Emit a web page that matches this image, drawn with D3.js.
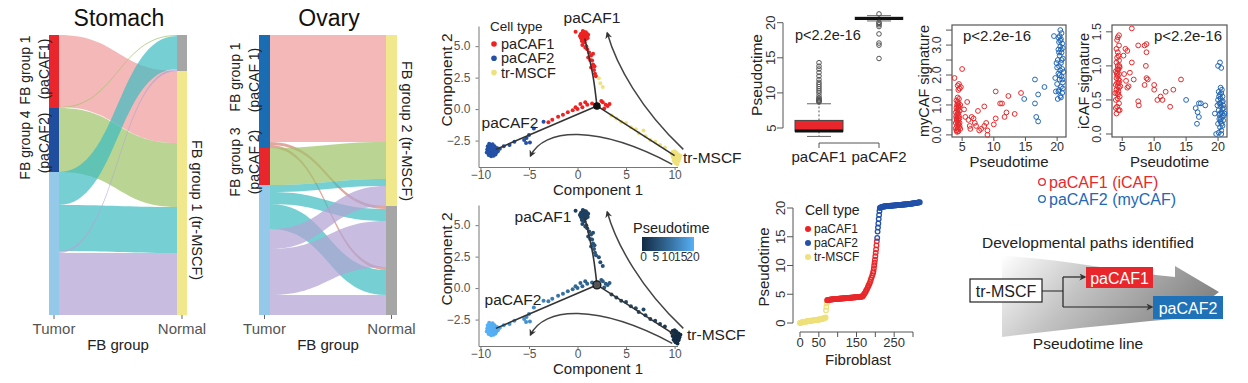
<!DOCTYPE html>
<html><head><meta charset="utf-8">
<script src="https://cdn.jsdelivr.net/npm/d3@7"></script>
<style>
body{margin:0;background:#fff;}
svg{display:block;font-family:"Liberation Sans",Arial,Helvetica,sans-serif;}
</style></head><body>
<svg id="fig" width="1248" height="383"></svg>
<script>
// ================= DATA =================
// Alluvial: stomach
const stomachTumorStrata = ["paCAF1","paCAF2","tr-MSCF"];
const stomachNormalStrata = ["other","tr-MSCF"];
const stomachFlows = [
  {from:"paCAF1", to:"tr-MSCF", n:72, grp:"A"},
  {from:"paCAF1", to:"other",   n:1,  grp:"B"},
  {from:"paCAF2", to:"tr-MSCF", n:64, grp:"B"},
  {from:"tr-MSCF", to:"other",  n:33, grp:"C"},
  {from:"tr-MSCF", to:"tr-MSCF",n:46, grp:"C"},
  {from:"tr-MSCF", to:"other",  n:2,  grp:"D"},
  {from:"tr-MSCF", to:"tr-MSCF",n:62, grp:"D"}
];
const stomachNormalOrder = [1,3,5,0,2,4,6];
// Alluvial: ovary
const ovaryTumorStrata = ["paCAF1","paCAF2","tr-MSCF"];
const ovaryNormalStrata = ["tr-MSCF","other"];
const ovaryFlows = [
  {from:"paCAF1", to:"tr-MSCF", n:107, grp:"A"},
  {from:"paCAF1", to:"other",   n:3,   grp:"A2"},
  {from:"paCAF1", to:"other",   n:3,   grp:"A2"},
  {from:"paCAF2", to:"tr-MSCF", n:37,  grp:"B"},
  {from:"tr-MSCF", to:"tr-MSCF",n:7,   grp:"C"},
  {from:"tr-MSCF", to:"other",  n:12,  grp:"C"},
  {from:"tr-MSCF", to:"other",  n:25,  grp:"C"},
  {from:"tr-MSCF", to:"tr-MSCF",n:20,  grp:"D"},
  {from:"tr-MSCF", to:"other",  n:46,  grp:"D"},
  {from:"tr-MSCF", to:"other",  n:20,  grp:"D"}
];
const ovaryNormalOrder = [0,3,4,7,1,5,8,2,6,9];

// Trajectory cells: [component1, component2, pseudotime]
const trajPaCAF1 = [
[0.35,5.95,3.6],[0.45,5.75,3.8],[0.55,6.05,3.7],[0.6,5.85,3.9],[0.7,5.65,4.0],[0.8,5.95,3.8],[0.9,5.75,4.1],[1.0,5.85,3.9],[0.5,5.55,4.2],[0.7,6.1,3.7],[0.6,5.45,4.3],[0.4,6.0,3.6],[0.85,5.55,4.2],[1.05,5.65,4.0],[0.55,5.7,3.9],[0.75,5.8,3.8],[0.65,6.0,3.7],[0.95,6.0,3.9],[0.35,5.65,4.0],[0.25,5.8,3.8],[0.45,5.4,4.4],[0.85,6.1,3.7],[0.55,6.2,3.6],[1.1,5.9,4.0],[0.7,5.3,4.5],[-0.2,6.15,3.7],
[0.5,5.1,5.0],[0.9,5.0,5.2],[0.8,4.9,5.3],[1.0,4.75,5.5],[1.2,4.5,5.8],[1.6,4.4,6.0],[1.4,4.25,6.1],[1.1,4.1,6.2],[1.3,3.9,6.4],[1.5,3.85,6.5],[1.6,3.55,6.7],[1.75,3.4,6.9],[1.4,3.3,7.0],[1.7,3.1,7.2],[1.8,2.8,7.5],[1.9,2.6,7.7],
[2.6,0.55,8.2],[2.9,0.35,8.4],[3.1,0.25,8.5],[2.75,0.05,8.3],[2.45,0.65,8.1],[3.3,0.4,8.6],
[1.5,0.45,9.0],[1.0,0.35,9.3],[0.8,0.55,9.2],[0.5,0.15,9.6],[0.3,0.4,9.5],[0.0,0.0,10.0],[-0.2,0.15,10.1],[-0.5,-0.1,10.5],[-1.0,-0.25,11.0],[-1.5,-0.45,11.6],[-2.0,-0.6,12.1],[-2.6,-0.85,12.8],[-3.0,-1.05,13.3]
];
const trajPaCAF2 = [
[-3.5,-1.0,14.0],[-4.5,-1.55,15.0],[-5.0,-2.05,15.6],[-5.25,-2.3,16.0],[-5.5,-2.45,16.3],[-4.9,-2.65,16.1],[-5.3,-2.7,16.4],[-6.5,-2.6,17.2],[-7.0,-2.85,17.8],[-7.6,-2.95,18.5],[-8.0,-3.15,19.2],
[-9.2,-3.0,20.5],[-9.0,-3.1,20.6],[-8.8,-3.0,20.4],[-8.6,-3.15,20.3],[-8.4,-3.25,20.2],[-9.1,-3.3,20.7],[-8.9,-3.4,20.6],[-8.7,-3.35,20.5],[-8.5,-3.45,20.4],[-9.0,-3.55,20.8],[-8.8,-3.6,20.7],[-8.6,-3.55,20.5],[-9.3,-3.2,20.9],[-9.2,-3.45,20.8],[-8.3,-3.1,20.2],[-8.95,-2.85,20.5],[-8.75,-2.8,20.4],[-9.1,-2.75,20.6],[-8.55,-2.95,20.3],[-8.2,-3.35,20.2],[-8.9,-3.75,20.8],[-9.15,-3.65,20.9],[-8.65,-3.7,20.6],[-8.45,-3.6,20.4],[-9.35,-3.45,20.9],[-8.8,-3.25,20.6],[-9.05,-3.2,20.7],[-8.35,-3.45,20.3],[-9.25,-2.95,20.8],[-8.65,-3.05,20.4]
];
const trajTrMSCF = [
[2.2,2.45,6.0],[2.35,2.05,6.2],[2.6,1.75,6.4],
[3.5,-0.5,6.0],[4.0,-0.75,5.8],[4.5,-1.0,5.6],[5.0,-1.1,5.4],[5.5,-1.45,5.2],[6.0,-1.6,5.0],[6.3,-1.9,4.8],[6.8,-1.7,4.8],[7.0,-2.15,4.5],[7.5,-2.45,4.2],[8.0,-2.6,4.0],[8.5,-2.85,3.6],[9.0,-3.05,3.0],
[9.8,-3.4,0.6],[10.0,-3.35,0.5],[10.2,-3.5,0.5],[10.4,-3.6,0.4],[9.9,-3.6,0.5],[10.1,-3.7,0.4],[10.3,-3.8,0.3],[10.5,-3.9,0.3],[9.8,-3.8,0.4],[10.0,-3.95,0.3],[10.2,-4.05,0.2],[10.4,-4.15,0.2],[10.1,-4.3,0.1],[10.3,-4.4,0.1],[9.9,-4.1,0.2],[10.6,-3.7,0.3],[9.7,-3.55,0.5],[10.15,-3.45,0.5],[10.45,-4.0,0.2],[10.05,-4.2,0.2],[10.25,-3.6,0.4],[9.95,-3.75,0.4]
];
const trajBackbone = [
  [[2.0,0.25],[1.6,2.6],[0.75,5.6]],
  [[2.0,0.25],[-8.4,-3.2]],
  [[2.0,0.25],[10.0,-3.7]]
];
const trajBranchPoint = [2.0,0.25];
const trajArrows = [
  [[10.9,-3.2],[6.5,0.0],[4.0,3.5],[3.06,6.05]],
  [[9.76,-4.39],[2.0,-1.2],[-3.5,-1.5],[-4.85,-3.73]]
];
const trajXTicks = [-10,-5,0,5,10];
const trajYTicks = [-2.5,0,2.5,5.0];
const cellTypes = ["paCAF1","paCAF2","tr-MSCF"];
const pseudoLegendTicks = [0,5,10,15,20];

// Box plot: pseudotime by group
const boxGroups = ["paCAF1","paCAF2"];
const boxQ1 = [4.52, 20.45];
const boxMedian = [4.58, 20.6];
const boxQ3 = [6.08, 20.8];
const boxLow = [3.8, 20.25];
const boxHigh = [8.45, 21.0];
const boxOutliers = [
  [8.7,8.8,8.9,9.0,9.15,9.3,9.6,10.0,10.3,10.6,10.9,11.2,11.5,11.9,12.4,12.9,13.4,13.8,14.3],
  [21.25,20.05,19.9,19.7,19.45,18.4,17.1,16.8,14.9]
];
const boxYTicks = [5,10,15,20];

// Scatter: myCAF signature vs pseudotime
const myCafRed = [
[4.1,0.15],[4.3,0.2],[4.5,0.25],[4.2,0.3],[4.4,0.35],[4.0,0.4],[4.6,0.4],[4.2,0.45],[4.4,0.5],[4.1,0.55],[4.3,0.6],[4.5,0.62],[4.2,0.68],[4.4,0.72],[4.0,0.75],[4.6,0.8],[4.3,0.85],[4.1,0.9],[4.5,0.95],[4.2,1.0],[4.4,1.05],[4.3,1.1],[4.1,1.15],[4.5,1.2],[4.3,1.25],[4.2,0.1],[4.4,0.12],[4.0,0.22],[4.6,0.3],[4.15,0.5],[4.55,0.55],[4.35,0.4],[4.25,0.78],[4.45,0.9],[4.05,0.62],[4.35,0.98],[4.4,1.5],[4.6,1.55],[4.3,1.65],[4.8,1.6],[3.8,1.9],[5.0,2.2],[4.5,1.7],[4.7,0.2],[4.7,1.0],
[5.5,0.6],[6.0,0.5],[6.5,0.6],[5.8,1.1],[6.2,0.3],[7.0,0.4],[7.5,0.8],[8.0,0.2],[8.5,0.3],[8.8,0.4],[9.0,0.0],[8.5,0.95],[10.0,0.35],[10.3,0.55],[10.3,1.45],[11.0,1.05],[11.3,1.05],[11.7,0.6],[12.0,0.75],[12.3,1.3],[13.3,0.7],[14.3,1.4],[7.7,0.15],[9.0,0.15],[6.3,0.2],[5.3,0.85],[6.8,0.55],[7.2,0.3]
];
const myCafBlue = [
[14.8,1.2],[16.5,1.05],[16.5,1.85],[16.7,0.6],[17.0,0.45],[17.0,1.35],[18.0,1.6],[19.5,3.3],[19.7,1.9],[19.8,1.45],
[20.1,1.2],[20.5,1.3],[20.8,1.4],[20.3,1.5],[20.6,1.6],[20.0,1.7],[20.9,1.75],[20.4,1.85],[20.7,1.95],[20.2,2.05],[20.5,2.15],[20.8,2.2],[20.3,2.3],[20.6,2.4],[20.1,2.5],[20.9,2.55],[20.4,2.65],[20.7,2.75],[20.2,2.85],[20.5,2.95],[20.8,3.05],[20.3,3.1],[20.6,3.2],[20.4,3.3],[20.7,3.4],[20.5,3.5],[20.6,1.25],[20.2,1.45],[20.9,1.55],[20.4,2.0],[20.0,2.25],[20.7,2.5],[20.3,2.75],[20.9,2.9],[20.5,3.15],[21.0,2.1],[19.9,2.4],[20.6,2.85],[20.2,3.25],[20.8,1.85]
];
// Scatter: iCAF signature vs pseudotime
const iCafRed = [
[4.1,0.3],[4.4,0.35],[4.2,0.4],[4.5,0.45],[4.0,0.5],[4.3,0.52],[4.6,0.55],[4.2,0.6],[4.4,0.62],[4.1,0.65],[4.5,0.68],[4.3,0.7],[4.0,0.72],[4.2,0.75],[4.6,0.78],[4.4,0.8],[4.1,0.82],[4.3,0.85],[4.5,0.88],[4.2,0.9],[4.0,0.92],[4.4,0.95],[4.6,0.98],[4.3,1.0],[4.1,1.05],[4.5,1.08],[4.2,1.12],[4.4,1.15],[4.3,1.2],[4.1,1.25],[4.5,1.3],[4.2,1.38],[4.3,1.42],[4.5,1.45],[4.0,0.38],[4.6,0.35],[3.9,0.6],[4.7,0.7],[4.35,0.58],[4.25,0.95],[4.45,0.75],[4.15,0.88],[4.55,1.0],
[6.5,1.55],[5.2,1.15],[5.5,1.25],[5.8,1.22],[5.3,0.88],[5.6,0.78],[6.0,0.7],[6.5,1.05],[6.8,0.8],[7.5,1.3],[7.5,0.48],[7.6,0.42],[8.5,1.3],[8.8,1.32],[8.8,1.2],[8.7,1.0],[8.8,0.82],[8.5,0.72],[9.0,0.8],[10.0,0.72],[10.0,0.65],[10.5,0.5],[11.0,0.55],[11.3,0.5],[11.8,0.62],[12.5,0.4],[13.0,0.65],[14.2,0.8],[5.8,0.68],[6.2,0.9]
];
const iCafBlue = [
[15.0,0.5],[16.5,0.38],[16.8,0.32],[17.0,0.45],[17.0,0.25],[16.7,0.15],[17.3,0.45],[18.0,0.42],[19.5,0.3],[19.7,0.0],[20.0,1.0],[20.3,1.05],[20.5,0.97],
[20.1,0.02],[20.5,0.05],[20.3,0.1],[20.7,0.12],[20.0,0.15],[20.4,0.18],[20.8,0.2],[20.2,0.22],[20.6,0.25],[20.9,0.27],[20.3,0.3],[20.5,0.32],[20.1,0.35],[20.7,0.37],[20.4,0.4],[20.8,0.42],[20.2,0.45],[20.6,0.47],[20.0,0.5],[20.4,0.52],[20.7,0.55],[20.3,0.58],[20.5,0.6],[20.1,0.62],[20.6,0.65],[20.4,0.68],[20.9,0.38],[20.2,0.28],[20.55,0.15],[20.35,0.45],[20.65,0.3],[20.15,0.55],[20.45,0.22],[20.75,0.48],[21.0,0.3],[19.9,0.42],[20.5,0.0]
];
const scatterXTicks = [5,10,15,20];
const myCafYTicks = [0,0.5,1,1.5,2,2.5,3,3.5];
const myCafYLabels = [0,1,2,3];
const iCafYTicks = [0,0.5,1,1.5];

// Pseudotime vs fibroblast index: [cell, pseudotime]
const fibTrMSCF = [
[0,0.0],[2,0.05],[4,0.1],[6,0.12],[8,0.15],[10,0.18],[12,0.2],[14,0.22],[16,0.25],[18,0.27],[20,0.3],[22,0.32],[24,0.34],[26,0.36],[28,0.38],[30,0.4],[32,0.42],[34,0.44],[36,0.46],[38,0.48],[40,0.5],[42,0.52],[44,0.54],[46,0.56],[48,0.58],[50,0.6],[52,0.62],[54,0.64],[56,0.67],[58,0.7],[60,0.74],[62,0.78],[64,0.82],[66,0.88],[68,0.95],[69,2.2],[70,2.8],[71,3.4],
[175,5.6],[181,6.6],[187,7.6],[171,5.0]
];
const fibPaCAF1 = [
[72,3.95],[74,4.0],[76,4.02],[78,4.05],[80,4.07],[82,4.1],[84,4.1],[86,4.12],[88,4.13],[90,4.15],[92,4.15],[94,4.17],[96,4.18],[98,4.2],[100,4.2],[102,4.22],[104,4.22],[106,4.23],[108,4.25],[110,4.25],[112,4.27],[114,4.28],[116,4.3],[118,4.3],[120,4.3],[122,4.32],[124,4.33],[126,4.35],[128,4.35],[130,4.37],[132,4.38],[134,4.4],[136,4.4],[138,4.42],[140,4.43],[142,4.45],[144,4.45],[146,4.47],[148,4.48],[150,4.5],[152,4.5],[154,4.52],[156,4.53],[158,4.55],[160,4.56],[162,4.58],[164,4.6],[166,4.62],
[168,4.8],[170,5.0],[172,5.2],[174,5.4],[176,5.7],[178,5.9],[180,6.2],[182,6.5],[184,6.8],[186,7.1],[188,7.5],[190,7.9],[192,8.3],[194,8.7],[195,9.0],[196,9.5],[197,10.0],[198,10.5],[199,11.0],[200,11.6],[201,12.2],[202,12.8],[203,13.5],[204,14.2]
];
const fibPaCAF2 = [
[205,14.8],[206,15.9],[207,16.6],[208,17.3],[209,18.1],[210,18.8],[211,19.5],[212,20.0],
[214,20.1],[216,20.15],[218,20.2],[220,20.22],[222,20.25],[224,20.27],[226,20.3],[228,20.3],[230,20.32],[232,20.33],[234,20.35],[236,20.35],[238,20.37],[240,20.38],[242,20.4],[244,20.4],[246,20.42],[248,20.43],[250,20.45],[252,20.45],[254,20.47],[256,20.48],[258,20.5],[260,20.5],[262,20.52],[264,20.53],[266,20.55],[268,20.55],[270,20.57],[272,20.58],[274,20.6],[276,20.6],[278,20.62],[280,20.63],[282,20.65],[284,20.65],[286,20.67],[288,20.68],[290,20.7],[292,20.72],[294,20.74],[296,20.76],[298,20.78],[300,20.8],[302,20.82],[304,20.84],[306,20.86],[308,20.88],[310,20.9],[312,20.93],[314,20.96],[316,20.98],[318,21.0]
];
const fibXTicks = [0,50,100,150,200,250,300];
const fibXLabels = [0,50,150,250];
const fibYTicks = [0,5,10,15,20];

// ================= STYLE =================
const C = {red:"#e8262b", blue:"#1f4e9f", blue2:"#1a6db3", ltblue:"#95c9ea", gray:"#a6a6a6", yellow:"#f1e88e"};
const flowColor = {A:"#f19c9c", A2:"#c9604f", B:"#9fc46a", C:"#3cbcc0", D:"#b3a3d4"};
const flowOpacity = {A:0.72, A2:0.55, B:0.72, C:0.7, D:0.72};
const typeColor = {"paCAF1":"#ee2222","paCAF2":"#2450a6","tr-MSCF":"#efe27c"};
const pseudoColor = d3.scaleLinear().domain([0,21]).range(["#132B43","#56B1F7"]).interpolate(d3.interpolateLab);

const svg = d3.select("#fig");

function txt(g, x, y, s, o={}) {
  const t = g.append("text").attr("x",x).attr("y",y).text(s)
    .attr("font-size", o.size||14).attr("fill", o.fill||"#222")
    .attr("text-anchor", o.anchor||"start");
  if (o.rotate) t.attr("transform", `rotate(${o.rotate},${x},${y})`);
  if (o.baseline) t.attr("dominant-baseline", o.baseline);
  return t;
}

// ================= ALLUVIALS =================
function drawAlluvial(cfg) {
  const g = svg.append("g");
  const total = d3.sum(cfg.flows, f => f.n);
  const y = d3.scaleLinear().domain([0,total]).range([cfg.y0, cfg.y1]);
  let acc = 0;
  const lo = cfg.flows.map(f => { const a = acc; acc += f.n; return a; });
  acc = 0; const ro = [];
  cfg.rightOrder.forEach(i => { ro[i] = acc; acc += cfg.flows[i].n; });
  const xm = (cfg.xL1 + cfg.xR0) / 2;
  cfg.flows.forEach((f,i) => {
    const a0=y(lo[i]), a1=y(lo[i]+f.n), b0=y(ro[i]), b1=y(ro[i]+f.n);
    g.append("path")
      .attr("d", `M${cfg.xL1},${a0}C${xm},${a0} ${xm},${b0} ${cfg.xR0},${b0}L${cfg.xR0},${b1}C${xm},${b1} ${xm},${a1} ${cfg.xL1},${a1}Z`)
      .attr("fill", flowColor[f.grp]).attr("fill-opacity", flowOpacity[f.grp]);
  });
  const lt = d3.rollup(cfg.flows, v => d3.sum(v, f => f.n), f => f.from);
  acc = 0;
  cfg.leftStrata.forEach(s => { const n = lt.get(s)||0;
    g.append("rect").attr("x",cfg.xL0).attr("width",cfg.xL1-cfg.xL0).attr("y",y(acc)).attr("height",y(acc+n)-y(acc)).attr("fill",cfg.leftColors[s]); acc += n; });
  const rt = d3.rollup(cfg.flows, v => d3.sum(v, f => f.n), f => f.to);
  acc = 0;
  cfg.rightStrata.forEach(s => { const n = rt.get(s)||0;
    g.append("rect").attr("x",cfg.xR0).attr("width",cfg.xR1-cfg.xR0).attr("y",y(acc)).attr("height",y(acc+n)-y(acc)).attr("fill",cfg.rightColors[s]); acc += n; });
  [(cfg.xL0+cfg.xL1)/2, (cfg.xR0+cfg.xR1)/2].forEach(x =>
    g.append("line").attr("x1",x).attr("x2",x).attr("y1",cfg.y1).attr("y2",cfg.y1+4).attr("stroke","#666"));
  txt(g,(cfg.xL0+cfg.xL1)/2,334,"Tumor",{size:15,fill:"#555",anchor:"middle"});
  txt(g,(cfg.xR0+cfg.xR1)/2,334,"Normal",{size:15,fill:"#555",anchor:"middle"});
  txt(g,(cfg.xL0+cfg.xR1)/2,350,"FB group",{size:15,fill:"#222",anchor:"middle"});
  txt(g,cfg.titleX,26,cfg.title,{size:23,fill:"#111",anchor:"middle"});
  return g;
}
const sg = drawAlluvial({xL0:49,xL1:59,xR0:177,xR1:187,y0:35,y1:315,flows:stomachFlows,rightOrder:stomachNormalOrder,
  leftStrata:stomachTumorStrata,rightStrata:stomachNormalStrata,
  leftColors:{"paCAF1":C.red,"paCAF2":C.blue,"tr-MSCF":C.ltblue},rightColors:{"other":C.gray,"tr-MSCF":C.yellow},
  title:"Stomach",titleX:119});
txt(sg,25,70,"FB group 1",{size:14,anchor:"middle",rotate:-90,baseline:"central"});
txt(sg,44,69,"(paCAF1)",{size:14,anchor:"middle",rotate:-90,baseline:"central"});
txt(sg,25,145,"FB group 4",{size:14,anchor:"middle",rotate:-90,baseline:"central"});
txt(sg,44,143,"(paCAF2)",{size:14,anchor:"middle",rotate:-90,baseline:"central"});
txt(sg,197,210,"FB group 1 (tr-MSCF)",{size:14.5,anchor:"middle",rotate:90,baseline:"central"});

const og = drawAlluvial({xL0:259,xL1:270,xR0:386,xR1:397,y0:35,y1:315,flows:ovaryFlows,rightOrder:ovaryNormalOrder,
  leftStrata:ovaryTumorStrata,rightStrata:ovaryNormalStrata,
  leftColors:{"paCAF1":C.blue2,"paCAF2":C.red,"tr-MSCF":C.ltblue},rightColors:{"tr-MSCF":C.yellow,"other":C.gray},
  title:"Ovary",titleX:329});
txt(og,235,77,"FB group 1",{size:14,anchor:"middle",rotate:-90,baseline:"central"});
txt(og,254,80,"(paCAF 1)",{size:14,anchor:"middle",rotate:-90,baseline:"central"});
txt(og,235,162,"FB group 3",{size:14,anchor:"middle",rotate:-90,baseline:"central"});
txt(og,254,162,"(paCAF 2)",{size:14,anchor:"middle",rotate:-90,baseline:"central"});
txt(og,407,131,"FB group 2 (tr-MSCF)",{size:14.5,anchor:"middle",rotate:90,baseline:"central"});

// ================= TRAJECTORIES =================
const defs = svg.append("defs");
defs.append("marker").attr("id","arrowHead").attr("viewBox","0 0 10 10").attr("refX",8).attr("refY",5)
  .attr("markerWidth",7).attr("markerHeight",7).attr("markerUnits","userSpaceOnUse").attr("orient","auto")
  .append("path").attr("d","M0,0L10,5L0,10L3,5Z").attr("fill","#333");

function drawTrajectory(yTop, mode) {
  const g = svg.append("g");
  const x = d3.scaleLinear().domain([-10.2,10.3]).range([478.5,677.5]);
  const y = d3.scaleLinear().domain([-4.6,6.6]).range([yTop+141,yTop]);
  const xa = d3.axisBottom(x).tickValues(trajXTicks).tickSize(3).tickPadding(0).tickSizeOuter(0).tickFormat(d3.format("d"));
  const ya = d3.axisLeft(y).tickValues(trajYTicks).tickSize(3).tickPadding(5).tickSizeOuter(0).tickFormat(d3.format(".1f"));
  const gx = g.append("g").attr("transform",`translate(0,${yTop+141})`).call(xa);
  const gy = g.append("g").attr("transform",`translate(478.5,0)`).call(ya);
  [gx,gy].forEach(a => { a.selectAll("path,line").attr("stroke","#777"); a.selectAll("text").attr("fill","#555").attr("font-size",12).attr("font-family","inherit"); });
  txt(g,598,yTop+169,"Component 1",{size:15,fill:"#222",anchor:"middle"});
  txt(g,446,yTop+54,"Component 2",{size:15.5,fill:"#222",anchor:"middle",rotate:-90,baseline:"central"});
  const line = d3.line().x(d=>x(d[0])).y(d=>y(d[1])).curve(d3.curveCatmullRom);
  const all = [];
  trajPaCAF1.forEach(d=>all.push({c1:d[0],c2:d[1],pt:d[2],t:"paCAF1"}));
  trajPaCAF2.forEach(d=>all.push({c1:d[0],c2:d[1],pt:d[2],t:"paCAF2"}));
  trajTrMSCF.forEach(d=>all.push({c1:d[0],c2:d[1],pt:d[2],t:"tr-MSCF"}));
  g.selectAll(".pt").data(all).join("circle").attr("cx",d=>x(d.c1)).attr("cy",d=>y(d.c2)).attr("r",2)
    .attr("fill",d=> mode==="type" ? typeColor[d.t] : pseudoColor(d.pt));
  trajBackbone.forEach(b => g.append("path").attr("d",line(b)).attr("fill","none").attr("stroke","#333").attr("stroke-width",1.6));
  g.append("circle").attr("cx",x(trajBranchPoint[0])).attr("cy",y(trajBranchPoint[1])).attr("r",mode==="type"?3.2:4)
    .attr("fill",mode==="type"?"#111":"#555").attr("stroke","#111").attr("stroke-width",1.2);
  trajArrows.forEach(a => {
    const p = `M${x(a[0][0])},${y(a[0][1])}C${x(a[1][0])},${y(a[1][1])} ${x(a[2][0])},${y(a[2][1])} ${x(a[3][0])},${y(a[3][1])}`;
    g.append("path").attr("d",p).attr("fill","none").attr("stroke","#444").attr("stroke-width",1.5).attr("marker-end","url(#arrowHead)");
  });
  return {g,x,y};
}
const t1 = drawTrajectory(26,"type");
txt(t1.g,592,23,"paCAF1",{size:15.5,anchor:"middle"});
txt(t1.g,510,128,"paCAF2",{size:15.5,anchor:"middle"});
txt(t1.g,683,163,"tr-MSCF",{size:15.5});
txt(t1.g,490,31,"Cell type",{size:13.5});
cellTypes.forEach((c,i) => {
  const yy = 44 + i*14.3;
  t1.g.append("circle").attr("cx",494).attr("cy",yy).attr("r",2.8).attr("fill",typeColor[c]);
  txt(t1.g,501,yy,c,{size:14.5,baseline:"central"});
});
const t2 = drawTrajectory(205,"pt");
txt(t2.g,543,222,"paCAF1",{size:15.5,anchor:"middle"});
txt(t2.g,513,305,"paCAF2",{size:15.5,anchor:"middle"});
txt(t2.g,687,340,"tr-MSCF",{size:15.5});
txt(t2.g,633,233,"Pseudotime",{size:14.5});
const grad = defs.append("linearGradient").attr("id","ptGrad");
d3.range(0,1.01,0.1).forEach(o => grad.append("stop").attr("offset",o).attr("stop-color",pseudoColor(o*21)));
const legX = d3.scaleLinear().domain([0,21]).range([642,694]);
t2.g.append("rect").attr("x",642).attr("y",237).attr("width",52).attr("height",14).attr("fill","url(#ptGrad)");
pseudoLegendTicks.forEach(v => txt(t2.g,legX(v)+1.5,261,String(v),{size:12,anchor:"middle",fill:"#333"}));

// ================= BOX PLOT =================
(function(){
  const g = svg.append("g");
  const y = d3.scaleLinear().domain([5,20]).range([128,22.7]);
  const x = d3.scalePoint().domain(boxGroups).range([819,879]);
  const hw = 24;
  g.append("line").attr("x1",783).attr("x2",783).attr("y1",y(5)).attr("y2",y(20)).attr("stroke","#555");
  boxYTicks.forEach(v => {
    g.append("line").attr("x1",777).attr("x2",783).attr("y1",y(v)).attr("y2",y(v)).attr("stroke","#555");
    txt(g,771,y(v),String(v),{size:13,fill:"#333",anchor:"middle",rotate:-90,baseline:"central"});
  });
  g.append("line").attr("x1",x("paCAF1")).attr("x2",x("paCAF2")).attr("y1",143).attr("y2",143).attr("stroke","#555");
  boxGroups.forEach((grp,i) => {
    const cx = x(grp);
    g.append("line").attr("x1",cx).attr("x2",cx).attr("y1",143).attr("y2",148).attr("stroke","#555");
    txt(g,cx,162,grp,{size:15,anchor:"middle"});
    g.append("line").attr("x1",cx).attr("x2",cx).attr("y1",y(boxQ3[i])).attr("y2",y(boxHigh[i])).attr("stroke","#555").attr("stroke-dasharray","2,2");
    g.append("line").attr("x1",cx).attr("x2",cx).attr("y1",y(boxQ1[i])).attr("y2",y(boxLow[i])).attr("stroke","#555").attr("stroke-dasharray","2,2");
    [boxHigh[i],boxLow[i]].forEach(v => g.append("line").attr("x1",cx-12).attr("x2",cx+12).attr("y1",y(v)).attr("y2",y(v)).attr("stroke","#666"));
    g.append("rect").attr("x",cx-hw).attr("width",2*hw).attr("y",y(boxQ3[i])).attr("height",Math.max(1,y(boxQ1[i])-y(boxQ3[i])))
      .attr("fill", i===0 ? C.red : "#d8d8d8").attr("stroke", i===0 ? "#444" : "#999");
    g.append("line").attr("x1",cx-hw).attr("x2",cx+hw).attr("y1",y(boxMedian[i])).attr("y2",y(boxMedian[i])).attr("stroke","#111").attr("stroke-width",3);
    boxOutliers[i].forEach(v => g.append("circle").attr("cx",cx).attr("cy",y(v)).attr("r",2.3).attr("fill","none").attr("stroke","#555").attr("stroke-width",1));
  });
  txt(g,756,75,"Pseudotime",{size:15.5,anchor:"middle",rotate:-90,baseline:"central"});
  txt(g,795,40,"p<2.2e-16",{size:14.5});
})();

// ================= SCATTERS =================
function drawScatter(cfg) {
  const g = svg.append("g");
  const x = d3.scaleLinear().domain([3.4,21.4]).range([cfg.x0,cfg.x1]);
  const y = d3.scaleLinear().domain(cfg.ydom).range([137,25]);
  g.append("rect").attr("x",cfg.x0).attr("y",25).attr("width",cfg.x1-cfg.x0).attr("height",112).attr("fill","none").attr("stroke","#555").attr("stroke-width",1.2);
  scatterXTicks.forEach(v => {
    g.append("line").attr("x1",x(v)).attr("x2",x(v)).attr("y1",137).attr("y2",141).attr("stroke","#555");
    txt(g,x(v),151,String(v),{size:12.5,fill:"#333",anchor:"middle"});
  });
  cfg.yticks.forEach(v => g.append("line").attr("x1",cfg.x0-6).attr("x2",cfg.x0).attr("y1",y(v)).attr("y2",y(v)).attr("stroke","#555"));
  cfg.ylabels.forEach(v => txt(g,cfg.x0-15,y(v),d3.format(".1f")(v),{size:12.5,fill:"#333",anchor:"middle",rotate:-90,baseline:"central"}));
  const pts = cfg.red.map(d=>({d,c:"#e8282b"})).concat(cfg.blue.map(d=>({d,c:"#2368b4"})));
  g.selectAll(".p").data(pts).join("circle").attr("cx",p=>x(p.d[0])).attr("cy",p=>y(p.d[1])).attr("r",2.4)
    .attr("fill","none").attr("stroke",p=>p.c).attr("stroke-width",1);
  txt(g,(cfg.x0+cfg.x1)/2,167,"Pseudotime",{size:15,anchor:"middle"});
  txt(g,cfg.x0-28,81,cfg.ylab,{size:14.5,anchor:"middle",rotate:-90,baseline:"central"});
  if (cfg.pRight) txt(g,cfg.x1-5,41,"p<2.2e-16",{size:15,anchor:"end"});
  else txt(g,cfg.x0+11,41,"p<2.2e-16",{size:15});
  return g;
}
drawScatter({x0:952,x1:1066,ydom:[-0.07,3.67],yticks:myCafYTicks,ylabels:myCafYLabels,red:myCafRed,blue:myCafBlue,ylab:"myCAF signature"});
drawScatter({x0:1112,x1:1227,ydom:[-0.044,1.6],yticks:iCafYTicks,ylabels:iCafYTicks,red:iCafRed,blue:iCafBlue,ylab:"iCAF signature",pRight:true});
(function(){
  const g = svg.append("g");
  [["paCAF1 (iCAF)","#e8282b",182],["paCAF2 (myCAF)","#2368b4",199]].forEach(([s,c,yy]) => {
    g.append("circle").attr("cx",1042).attr("cy",yy).attr("r",3.3).attr("fill","none").attr("stroke",c).attr("stroke-width",1.3);
    txt(g,1049,yy,s,{size:16,fill:c,baseline:"central"});
  });
})();

// ================= PSEUDOTIME vs FIBROBLAST =================
(function(){
  const g = svg.append("g");
  const x = d3.scaleLinear().domain([0,300]).range([800,913]);
  const y = d3.scaleLinear().domain([0,20]).range([323,208]);
  g.append("line").attr("x1",793).attr("x2",793).attr("y1",y(0)).attr("y2",y(20)).attr("stroke","#555");
  fibYTicks.forEach(v => {
    g.append("line").attr("x1",787).attr("x2",793).attr("y1",y(v)).attr("y2",y(v)).attr("stroke","#555");
    txt(g,780,y(v),String(v),{size:13,fill:"#333",anchor:"middle",rotate:-90,baseline:"central"});
  });
  g.append("line").attr("x1",x(0)).attr("x2",x(300)).attr("y1",332).attr("y2",332).attr("stroke","#555");
  fibXTicks.forEach(v => g.append("line").attr("x1",x(v)).attr("x2",x(v)).attr("y1",332).attr("y2",337).attr("stroke","#555"));
  fibXLabels.forEach(v => txt(g,x(v),347,String(v),{size:13,fill:"#333",anchor:"middle"}));
  txt(g,858,365,"Fibroblast",{size:15,anchor:"middle"});
  txt(g,763,267,"Pseudotime",{size:15,anchor:"middle",rotate:-90,baseline:"central"});
  const pts = fibTrMSCF.map(d=>({d,t:"tr-MSCF"})).concat(fibPaCAF1.map(d=>({d,t:"paCAF1"}))).concat(fibPaCAF2.map(d=>({d,t:"paCAF2"})));
  const fc = {"tr-MSCF":"#eee07a","paCAF1":"#e8282b","paCAF2":"#2151a8"};
  g.selectAll(".p").data(pts).join("circle").attr("cx",p=>x(p.d[0])).attr("cy",p=>y(p.d[1])).attr("r",2.3)
    .attr("fill","none").attr("stroke",p=>fc[p.t]).attr("stroke-width",1.3);
  txt(g,805,215,"Cell type",{size:14});
  cellTypes.forEach((c,i) => {
    const yy = 229 + i*14;
    g.append("circle").attr("cx",808).attr("cy",yy).attr("r",3).attr("fill",typeColor[c]);
    txt(g,814,yy,c,{size:12,baseline:"central"});
  });
})();

// ================= SCHEMATIC =================
(function(){
  const g = svg.append("g");
  const gg = defs.append("linearGradient").attr("id","arrGrad").attr("x1","0").attr("y1","0").attr("x2","1").attr("y2","0.35");
  [[0,"#ffffff"],[0.12,"#eeeeee"],[0.45,"#c2c2c2"],[1,"#868686"]].forEach(([o,c]) => gg.append("stop").attr("offset",o).attr("stop-color",c));
  g.append("path").attr("d","M1002,256C1060,258 1120,272 1175,277L1175,266L1219,292L1185,318L1150,321C1100,326 1050,331 1002,337Z").attr("fill","url(#arrGrad)");
  txt(g,1088,248,"Developmental paths identified",{size:15.5,anchor:"middle"});
  txt(g,1088,349,"Pseudotime line",{size:15.5,anchor:"middle"});
  g.append("rect").attr("x",970).attr("y",279).attr("width",72).attr("height",23).attr("fill","#fff").attr("stroke","#222").attr("stroke-width",1.2);
  txt(g,1006,291,"tr-MSCF",{size:16,anchor:"middle",baseline:"central"});
  g.append("path").attr("d","M1042,291H1063M1063,277V307").attr("stroke","#222").attr("stroke-width",1.2).attr("fill","none");
  g.append("path").attr("d","M1063,277H1085").attr("stroke","#222").attr("stroke-width",1.2).attr("marker-end","url(#arrowHead)");
  g.append("path").attr("d","M1063,307H1152").attr("stroke","#222").attr("stroke-width",1.2).attr("marker-end","url(#arrowHead)");
  g.append("rect").attr("x",1086).attr("y",267).attr("width",67).attr("height",21).attr("fill",C.red);
  txt(g,1119.5,278,"paCAF1",{size:16,anchor:"middle",fill:"#fff",baseline:"central"});
  g.append("rect").attr("x",1153).attr("y",296).attr("width",70).attr("height",23).attr("fill","#1f72b8");
  txt(g,1188,308,"paCAF2",{size:16,anchor:"middle",fill:"#fff",baseline:"central"});
})();
</script></body></html>
